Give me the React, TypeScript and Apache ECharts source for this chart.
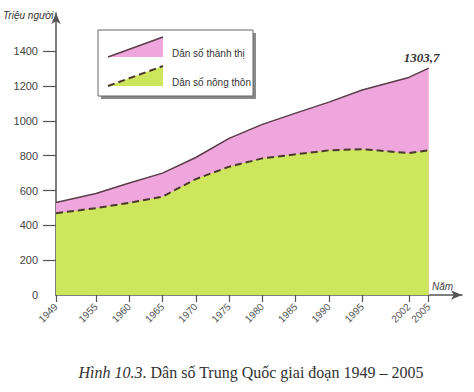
import React, { useEffect, useRef } from "react";
import * as echarts from "echarts";

const years = [1949, 1955, 1960, 1965, 1970, 1975, 1980, 1985, 1990, 1995, 2002, 2005];
const totalPop = [531, 583, 643, 700, 790, 900, 980, 1045, 1108, 1178, 1250, 1303.7];
const ruralPop = [470, 499, 530, 565, 666, 737, 785, 808, 831, 838, 815, 832];
const yLabels = [0, 200, 400, 600, 800, 1000, 1200, 1400];
const yTickVals = [200, 400, 600, 800, 1000, 1200, 1400];
const seriesNames = ["Dân số thành thị", "Dân số nông thôn"];

const PINK = "#EEA6DC";
const GREEN = "#CDE65C";
const LINE_DARK = "#5a3d48";
const DASH_DARK = "#4a3a2c";
const AXIS = "#555";
const SANS = "'Liberation Sans Narrow', 'Liberation Sans', Arial, sans-serif";
const SERIF = "'Liberation Serif', 'Times New Roman', serif";

export default function App() {
  const ref = useRef<HTMLDivElement>(null);
  useEffect(() => {
    if (!ref.current) return;
    const chart = echarts.init(ref.current, null, { renderer: "svg" });
    const last = totalPop.length - 1;
    chart.setOption({
      animation: false,
      backgroundColor: "#fff",
      grid: { left: 56, right: 12, top: 13, bottom: 97 },
      xAxis: {
        type: "value",
        min: 1949,
        max: 2010,
        splitLine: { show: false },
        axisLine: {
          lineStyle: { color: AXIS, width: 1.5 },
          symbol: ["none", "arrow"],
          symbolSize: [7, 11],
        },
        axisTick: { show: true, customValues: years, length: 7, lineStyle: { color: AXIS, width: 1.2 } },
        axisLabel: {
          customValues: years,
          rotate: 45,
          margin: 10,
          color: "#555",
          fontSize: 10,
          fontFamily: SANS,
          formatter: (v: number) => String(v),
        },
      },
      yAxis: {
        type: "value",
        min: 0,
        max: 1620,
        splitLine: { show: false },
        axisLine: {
          show: true,
          lineStyle: { color: AXIS, width: 1.5 },
          symbol: ["none", "arrow"],
          symbolSize: [7, 11],
        },
        axisTick: { show: true, customValues: yTickVals, length: 13, lineStyle: { color: AXIS, width: 1.2 } },
        axisLabel: {
          customValues: yLabels,
          margin: 18,
          color: "#444",
          fontSize: 11,
          fontFamily: SANS,
          formatter: (v: number) => String(v),
        },
      },
      series: [
        {
          name: seriesNames[0],
          type: "line",
          data: years.map((y, i) => ({
            value: [y, totalPop[i]],
            label:
              i === last
                ? {
                    show: true,
                    position: "top",
                    distance: 4,
                    offset: [-7, 0],
                    formatter: () => String(totalPop[last]).replace(".", ","),
                    fontFamily: SERIF,
                    fontStyle: "italic",
                    fontWeight: "bold",
                    fontSize: 13,
                    color: "#333",
                  }
                : { show: false },
          })),
          showSymbol: true,
          symbol: "circle",
          symbolSize: 0,
          lineStyle: { color: LINE_DARK, width: 1.5 },
          areaStyle: { color: PINK, opacity: 1 },
          z: 2,
        },
        {
          name: seriesNames[1],
          type: "line",
          data: years.map((y, i) => [y, ruralPop[i]]),
          showSymbol: false,
          symbol: "none",
          lineStyle: { color: DASH_DARK, width: 2, type: [7, 4] },
          areaStyle: { color: GREEN, opacity: 1 },
          z: 3,
        },
      ],
      graphic: [
        {
          type: "text",
          x: 3,
          y: 15,
          style: {
            text: "Triệu người",
            font: `italic 10px ${SANS}`,
            fill: "#333",
            textVerticalAlign: "middle",
          },
        },
        {
          type: "text",
          x: 432,
          y: 286,
          style: {
            text: "Năm",
            font: `italic 10px ${SANS}`,
            fill: "#444",
            textVerticalAlign: "middle",
          },
        },
        {
          type: "rect",
          shape: { x: 101, y: 33, width: 155, height: 66 },
          style: { fill: "#8a8a8a" },
          z: 9,
        },
        {
          type: "rect",
          shape: { x: 98, y: 30, width: 155, height: 66 },
          style: { fill: "#fff", stroke: "#666", lineWidth: 1 },
          z: 10,
        },
        {
          type: "polygon",
          shape: { points: [[108, 57], [163, 37], [163, 57]] },
          style: { fill: PINK },
          z: 11,
        },
        {
          type: "line",
          shape: { x1: 108, y1: 57, x2: 163, y2: 37 },
          style: { stroke: LINE_DARK, lineWidth: 1.5 },
          z: 12,
        },
        {
          type: "polygon",
          shape: { points: [[108, 86], [163, 66], [163, 86]] },
          style: { fill: GREEN },
          z: 11,
        },
        {
          type: "line",
          shape: { x1: 108, y1: 86, x2: 163, y2: 66 },
          style: { stroke: DASH_DARK, lineWidth: 2, lineDash: [7, 4] },
          z: 12,
        },
        {
          type: "text",
          x: 172,
          y: 53,
          style: {
            text: seriesNames[0],
            font: `10px ${SANS}`,
            fill: "#333",
            textVerticalAlign: "middle",
          },
          z: 12,
        },
        {
          type: "text",
          x: 172,
          y: 82,
          style: {
            text: seriesNames[1],
            font: `10px ${SANS}`,
            fill: "#333",
            textVerticalAlign: "middle",
          },
          z: 12,
        },
        {
          type: "text",
          x: 251,
          y: 372,
          style: {
            text: "{i|Hình 10.3}. Dân số Trung Quốc giai đoạn 1949 – 2005",
            font: `16px ${SERIF}`,
            fill: "#333",
            textAlign: "center",
            textVerticalAlign: "middle",
            rich: {
              i: { fontFamily: SERIF, fontStyle: "italic", fontSize: 16, fill: "#333" },
            },
          },
        },
      ],
    });
    return () => chart.dispose();
  }, []);
  return (
    <div
      ref={ref}
      style={{ position: "fixed", left: 0, top: 0, width: 474, height: 392 }}
    />
  );
}
